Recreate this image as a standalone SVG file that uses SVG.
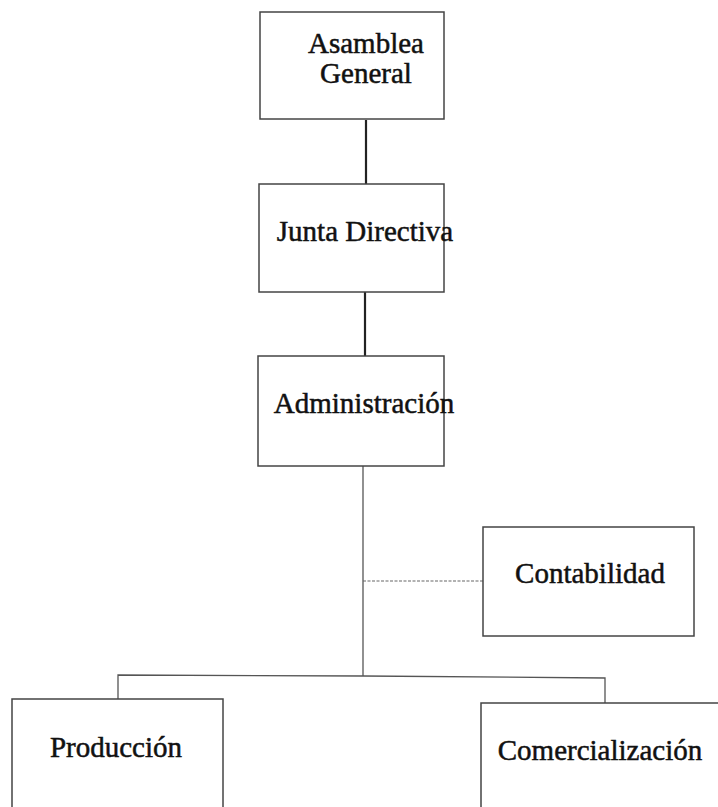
<svg xmlns="http://www.w3.org/2000/svg" width="718" height="807" viewBox="0 0 718 807">
<style>
.box{fill:#fff;stroke:#444;stroke-width:1.5}
.t{font-family:"Liberation Serif","Times New Roman",serif;font-size:29px;fill:#111;stroke:#111;stroke-width:0.5;text-anchor:middle}
.thick{stroke:#222;stroke-width:2.2;fill:none}
.thin{stroke:#555;stroke-width:1.3;fill:none}
.dash{stroke:#666;stroke-width:1.2;stroke-dasharray:3 1.5;fill:none}
</style>
<rect width="718" height="807" fill="#fff"/>
<g id="connectors">
<line class="thick" x1="366" y1="120" x2="366" y2="184"/>
<line class="thick" x1="365" y1="292" x2="365" y2="356"/>
<line class="thin" x1="363" y1="466" x2="363" y2="676"/>
<line class="dash" x1="363" y1="581" x2="483" y2="581"/>
<polyline class="thin" points="118,699 118,675 363,676 605,678 605,703"/>
</g>
<g id="asamblea">
<rect class="box" x="260" y="12" width="184" height="107"/>
<text class="t" x="366" y="53">Asamblea</text>
<text class="t" x="366" y="83">General</text>
</g>
<g id="junta">
<rect class="box" x="259" y="184" width="185" height="108"/>
<text class="t" x="365" y="241">Junta Directiva</text>
</g>
<g id="administracion">
<rect class="box" x="258" y="356" width="186" height="110"/>
<text class="t" x="364" y="413">Administración</text>
</g>
<g id="contabilidad">
<rect class="box" x="483" y="527" width="211" height="109"/>
<text class="t" x="590" y="583">Contabilidad</text>
</g>
<g id="produccion">
<rect class="box" x="12" y="699" width="211" height="120"/>
<text class="t" x="116" y="757">Producción</text>
</g>
<g id="comercializacion">
<rect class="box" x="481" y="703" width="250" height="120"/>
<text class="t" x="600" y="760">Comercialización</text>
</g>
</svg>
